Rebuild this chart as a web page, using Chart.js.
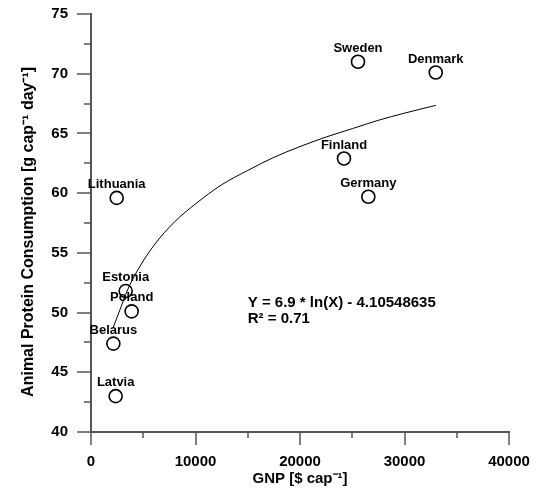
<!DOCTYPE html>
<html>
<head>
<meta charset="utf-8">
<script src="https://cdn.jsdelivr.net/npm/chart.js@4"></script>
<style>
  body { margin: 0; background: #fff; }
</style>
</head>
<body>
<canvas id="myChart" width="536" height="488"></canvas>
<script>
const countries = ['Sweden', 'Denmark', 'Finland', 'Germany', 'Lithuania', 'Estonia', 'Poland', 'Belarus', 'Latvia'];
const gnp = [25550, 32990, 24210, 26540, 2460, 3320, 3890, 2140, 2360];
const protein = [71.0, 70.1, 62.9, 59.7, 59.6, 51.8, 50.1, 47.4, 43.0];

// fitted curve
const fitX = [2100, 2800, 3500, 4500, 6000, 8000, 10000, 12500, 15000, 17500, 20000, 22500, 25000, 27500, 30000, 33000];
const fitY = [48.7, 50.3, 51.9, 53.6, 55.6, 57.6, 59.1, 60.7, 61.9, 63.0, 63.9, 64.7, 65.4, 66.1, 66.7, 67.35];

const equation = ['Y = 6.9 * ln(X) - 4.10548635', 'R\u00B2 = 0.71'];
const yTicks = [40, 45, 50, 55, 60, 65, 70, 75];
const xTicks = [0, 10000, 20000, 30000, 40000];

const FONT = 'Liberation Sans, Arial, sans-serif';
const AXIS = '#555';

// ticks (major + minor), point labels and the equation
const extras = {
    id: 'extras',
    afterDraw(chart) {
        const ctx = chart.ctx;
        const xs = chart.scales.x;
        const ys = chart.scales.y;
        ctx.save();
        ctx.strokeStyle = AXIS;
        ctx.lineWidth = 1.5;
        for (let v = 40; v <= 75; v += 2.5) {
            const py = Math.round(ys.getPixelForValue(v));
            const len = v % 5 === 0 ? 14 : 7;
            ctx.beginPath();
            ctx.moveTo(xs.left, py);
            ctx.lineTo(xs.left - len, py);
            ctx.stroke();
        }
        for (let v = 0; v <= 40000; v += 5000) {
            const px = Math.round(xs.getPixelForValue(v));
            const len = v % 10000 === 0 ? 13 : 6;
            ctx.beginPath();
            ctx.moveTo(px, ys.bottom);
            ctx.lineTo(px, ys.bottom + len);
            ctx.stroke();
        }

        const meta = chart.getDatasetMeta(0);
        ctx.fillStyle = '#000';
        ctx.font = 'bold 13px ' + FONT;
        ctx.textAlign = 'center';
        ctx.textBaseline = 'alphabetic';
        meta.data.forEach((el, i) => {
            ctx.fillText(countries[i], el.x, el.y - 10);
        });

        ctx.font = 'bold 15px ' + FONT;
        ctx.textAlign = 'left';
        const ex = xs.getPixelForValue(15000);
        const ey = ys.getPixelForValue(50.5);
        equation.forEach((t, i) => ctx.fillText(t, ex, ey + i * 16));
        ctx.restore();
    }
};

function getContext() {
    const points = gnp.map((g, i) => ({ x: g, y: protein[i] }));
    const curve = fitX.map((x, i) => ({ x: x, y: fitY[i] }));
    const data = {
        datasets: [
            {
                type: 'scatter',
                data: points,
                pointRadius: 6.5,
                pointBorderWidth: 1.6,
                pointBorderColor: '#000',
                pointBackgroundColor: 'rgba(255,255,255,0)'
            },
            {
                type: 'line',
                data: curve,
                borderColor: '#000',
                borderWidth: 1,
                pointRadius: 0,
                cubicInterpolationMode: 'monotone',
                fill: false
            }
        ]
    };
    generateChart(data);
}

function generateChart(data) {
    const ctx = document.getElementById('myChart');
    new Chart(ctx, {
        data: data,
        plugins: [extras],
        options: {
            responsive: false,
            animation: false,
            layout: { padding: { top: 14, right: 27, left: 0, bottom: 0 } },
            scales: {
                x: {
                    type: 'linear',
                    min: 0,
                    max: 40000,
                    afterFit: s => { s.height = 56; s.paddingLeft = 0; s.paddingRight = 0; },
                    afterBuildTicks: s => { s.ticks = xTicks.map(v => ({ value: v })); },
                    grid: { display: false, drawTicks: false },
                    border: { display: true, color: AXIS, width: 2 },
                    ticks: {
                        padding: 21,
                        color: '#000',
                        maxRotation: 0,
                        callback: v => String(v),
                        font: { family: FONT, size: 15, weight: 'bold' }
                    },
                    title: {
                        display: true,
                        text: 'GNP [$ cap\u207B\u00B9]',
                        color: '#000',
                        padding: 0,
                        font: { family: FONT, size: 15, weight: 'bold' }
                    }
                },
                y: {
                    min: 40,
                    max: 75,
                    afterFit: s => { s.width = 91; s.paddingTop = 0; s.paddingBottom = 0; },
                    afterBuildTicks: s => { s.ticks = yTicks.map(v => ({ value: v })); },
                    grid: { display: false, drawTicks: false },
                    border: { display: true, color: AXIS, width: 2 },
                    ticks: {
                        padding: 23,
                        color: '#000',
                        font: { family: FONT, size: 15, weight: 'bold' }
                    },
                    title: {
                        display: true,
                        // trailing spaces nudge the title a little lower, as in the original
                        text: 'Animal Protein Consumption [g cap\u207B\u00B9 day\u207B\u00B9]    ',
                        color: '#000',
                        padding: { top: 19, bottom: 0 },
                        font: { family: FONT, size: 16, weight: 'bold' }
                    }
                }
            },
            plugins: {
                legend: { display: false },
                tooltip: { enabled: false }
            }
        }
    });
}

getContext();
</script>
</body>
</html>
